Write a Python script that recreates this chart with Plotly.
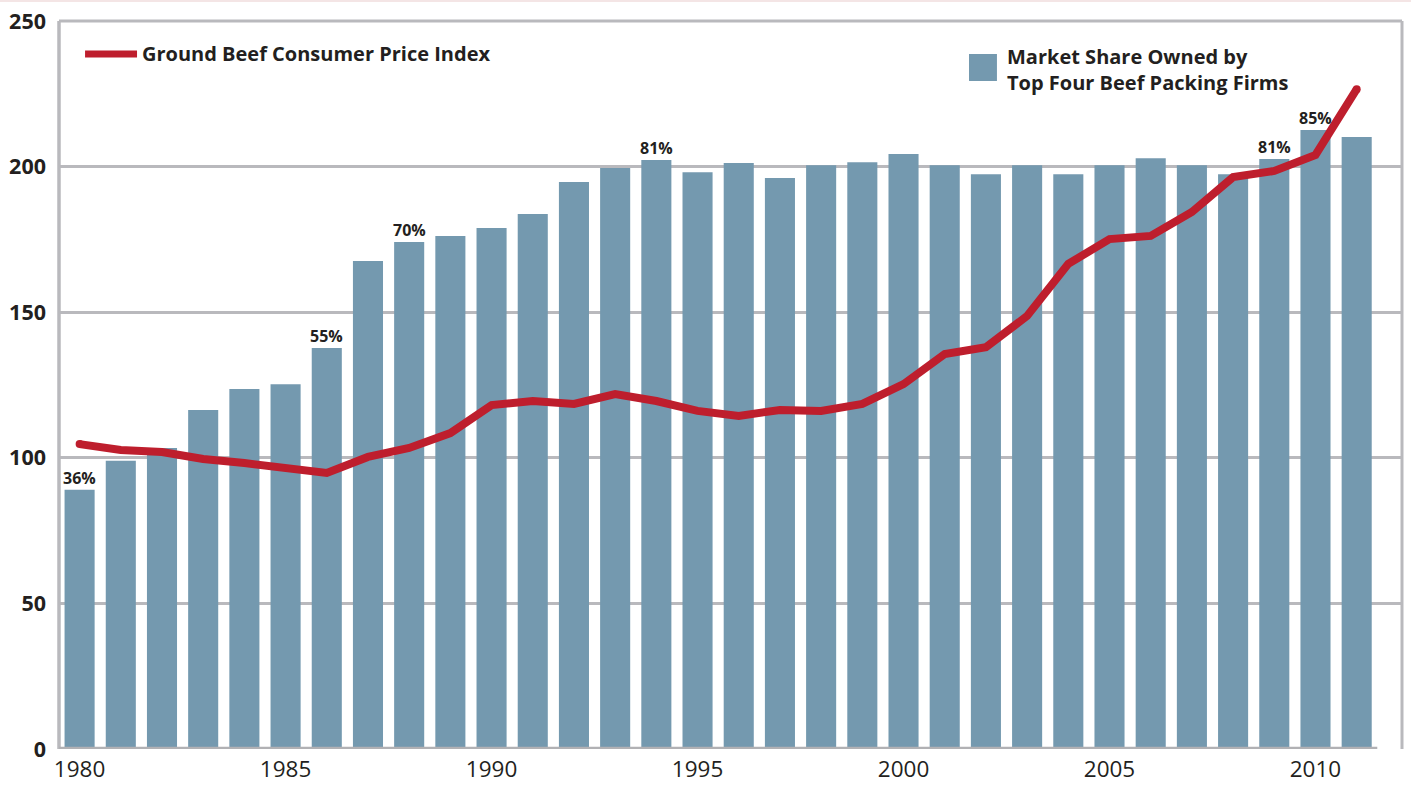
import plotly.graph_objects as go

years = list(range(1980, 2012))
# Bar heights (market share, plotted on the index scale)
share_bars = [89, 99, 103.4, 116.4, 123.6, 125.3, 137.7, 167.6, 174.1, 176.2,
              178.9, 183.7, 194.7, 199.5, 202.3, 198.1, 201.2, 196.1, 200.5, 201.5,
              204.3, 200.5, 197.4, 200.5, 197.4, 200.5, 202.9, 200.5, 197.4, 202.6,
              212.6, 210.2]
# Ground beef CPI
cpi = [104.7, 102.7, 102.0, 99.6, 98.2, 96.2, 94.8, 100.3, 103.4, 108.5,
       118.1, 119.5, 118.5, 121.9, 119.5, 116.1, 114.4, 116.4, 116.1, 118.5,
       125.3, 135.6, 138.0, 148.7, 166.6, 175.1, 176.2, 184.4, 196.4, 198.5,
       204.0, 226.6]
label_years = [1980, 1986, 1988, 1994, 2009, 2010]
label_texts = ["36%", "55%", "70%", "81%", "81%", "85%"]
x_ticks = [1980, 1985, 1990, 1995, 2000, 2005, 2010]
y_ticks = [0, 50, 100, 150, 200, 250]

BAR = "#7499af"
RED = "#be1e2d"
GRID = "#b9b9bd"
FONT = "Open Sans"

fig = go.Figure()
fig.add_trace(go.Bar(x=years, y=share_bars, marker=dict(color=BAR, line_width=0),
                     hoverinfo="skip"))
fig.add_trace(go.Scatter(x=years, y=cpi, mode="lines",
                         line=dict(color=RED, width=8), hoverinfo="skip"))
# rounded line ends
fig.add_trace(go.Scatter(x=[years[0], years[-1]], y=[cpi[0], cpi[-1]], mode="markers",
                         marker=dict(color=RED, size=8, line_width=0), hoverinfo="skip"))

xr = [1979.5, 2012.1]
fig.update_layout(
    width=1411, height=786,
    margin=dict(l=59, r=9, t=21, b=37),
    paper_bgcolor="white", plot_bgcolor="white",
    showlegend=False, bargap=0.27,
    font=dict(family=FONT, color="#231f20"),
    xaxis=dict(range=xr, tickvals=x_ticks, ticktext=[str(t) for t in x_ticks],
               showgrid=False, zeroline=False, showline=False, ticks="",
               tickfont=dict(size=22.5, family=FONT, color="#231f20"),
               ticklabelstandoff=4, automargin=False),
    yaxis=dict(range=[0, 250], tickvals=y_ticks, showgrid=True, gridcolor=GRID,
               gridwidth=2.5, zeroline=False, showline=False, ticks="",
               tickfont=dict(size=21.5, family=FONT, color="#231f20", weight="bold"),
               ticklabelstandoff=12, automargin=False),
)

shapes = []
# frame
shapes.append(dict(type="line", xref="paper", yref="paper", x0=0, x1=0, y0=0, y1=1,
                   line=dict(color=GRID, width=3.5), layer="above"))
shapes.append(dict(type="line", xref="paper", yref="paper", x0=0, x1=1, y0=1, y1=1,
                   line=dict(color=GRID, width=3), layer="above"))
shapes.append(dict(type="line", xref="paper", yref="paper", x0=1, x1=1, y0=0, y1=1,
                   line=dict(color=GRID, width=3), layer="above"))
shapes.append(dict(type="line", xref="x", yref="y", x0=xr[0], x1=2011.5, y0=0, y1=0,
                   line=dict(color="#b1b1b4", width=4.5), layer="above"))
# faint page border at top
shapes.append(dict(type="line", xref="paper", yref="paper", x0=-0.05, x1=1.01,
                   y0=1.0275, y1=1.0275, line=dict(color="#f0dcdc", width=1.5)))
# legend marks
shapes.append(dict(type="line", xref="paper", yref="paper", x0=0.0194, x1=0.0581,
                   y0=0.9547, y1=0.9547, line=dict(color=RED, width=7)))
shapes.append(dict(type="rect", xref="paper", yref="paper", x0=0.6776, x1=0.6984,
                   y0=0.9176, y1=0.9547, fillcolor=BAR, line_width=0))
fig.update_layout(shapes=shapes)

ann = []
ann.append(dict(xref="paper", yref="paper", x=0.0605, y=0.9547, xanchor="left",
                yanchor="middle", showarrow=False,
                text="<b>Ground Beef Consumer Price Index</b>",
                font=dict(size=20, family=FONT, color="#231f20")))
ann.append(dict(xref="paper", yref="paper", x=0.7045, y=0.9340, xanchor="left",
                yanchor="middle", showarrow=False, align="left",
                text="<b>Market Share Owned by<br>Top Four Beef Packing Firms</b>",
                font=dict(size=20, family=FONT, color="#231f20")))
for yr, t in zip(label_years, label_texts):
    h = share_bars[years.index(yr)]
    ann.append(dict(x=yr, y=h, xref="x", yref="y", text="<b>" + t + "</b>",
                    showarrow=False, yanchor="bottom", yshift=-1,
                    font=dict(size=16, family=FONT, color="#231f20")))
fig.update_layout(annotations=ann)

fig.write_html("out.html", config={"displayModeBar": False},
               post_script="document.body.style.margin='0px';document.body.style.overflow='hidden';")
